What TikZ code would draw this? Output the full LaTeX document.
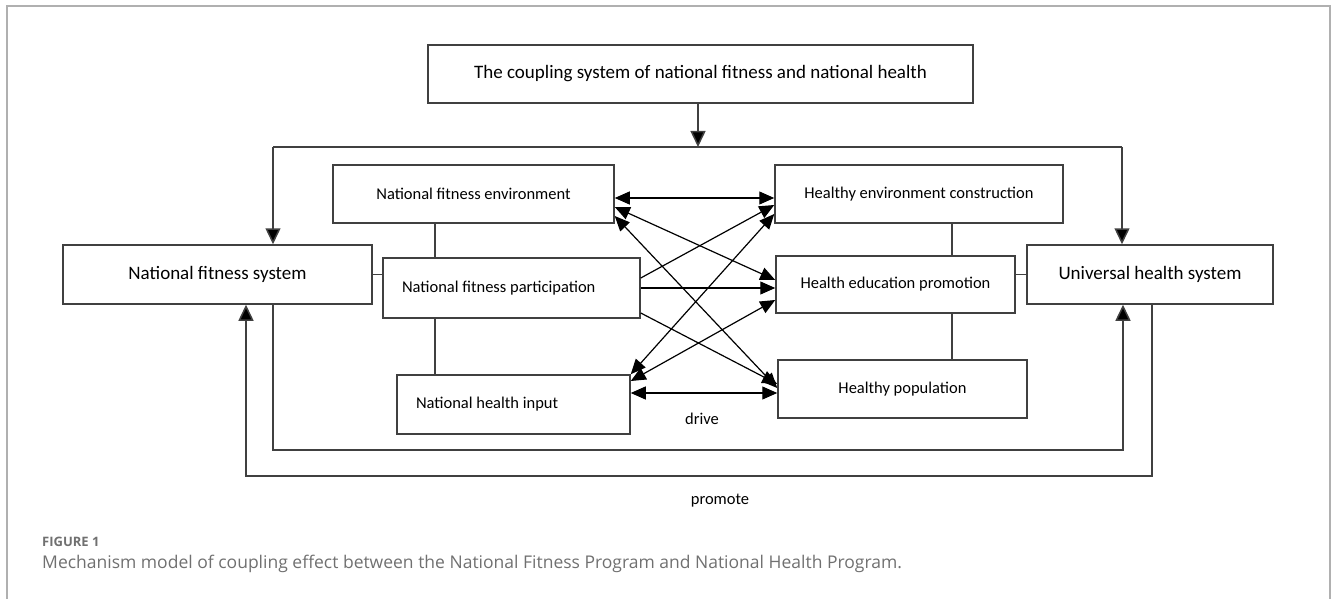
\documentclass[tikz,border=0pt]{standalone}
\usepackage{fontspec}
\setmainfont{Carlito}
\newfontfamily\capfont{Open Sans}
\usetikzlibrary{arrows.meta}

\definecolor{linec}{HTML}{404040}
\definecolor{framec}{HTML}{B0B0B0}
\definecolor{capc}{HTML}{707070}

\tikzset{
  box/.style={draw=linec, line width=1.5pt, inner sep=0pt, align=center},
  bigtxt/.style={font=\fontsize{19}{23}\selectfont},
  smalltxt/.style={font=\fontsize{16.5}{20}\selectfont},
  link/.style={draw=linec, line width=1.5pt},
  sysarrow/.style={link, -{Triangle[length=16pt,width=15pt,fill=black]}},
  onearrow/.style={draw=black, line width=1.2pt, -{Triangle[length=15pt,width=13pt]}},
  twoarrow/.style={draw=black, line width=1.2pt, {Triangle[length=15pt,width=13pt]}-{Triangle[length=15pt,width=13pt]}},
  lbl/.style={font=\fontsize{16.5}{20}\selectfont, inner sep=0pt},
}

\begin{document}
\begin{tikzpicture}[x=1pt, y=-1pt]
\useasboundingbox (0,0) rectangle (1331,599);

% outer frame (top, left and right rules)
\draw[framec, line width=2pt] (7.3,599) -- (7.3,6.3) -- (1330.3,6.3) -- (1330.3,599);

% top level
\node[box, bigtxt, minimum width=545pt, minimum height=58pt] (top) at (700.5,74)
  {The coupling system of national fitness and national health};

% the two systems
\node[box, bigtxt, minimum width=309pt, minimum height=59pt] (nfs) at (217.5,274.5)
  {National fitness system};
\node[box, bigtxt, minimum width=246pt, minimum height=59pt] (uhs) at (1150,274.5)
  {Universal health system};

% fitness side
\node[box, smalltxt, minimum width=281pt, minimum height=58pt] (nfe) at (473.5,194)
  {National fitness environment};
\node[box, smalltxt, align=flush left, inner xsep=19pt, text width=219pt, minimum height=60pt] (nfp) at (511.5,288)
  {National fitness participation};
\node[box, smalltxt, align=flush left, inner xsep=19pt, text width=195pt, minimum height=59pt] (nhi) at (513.5,404.5)
  {National health input};

% health side
\node[box, smalltxt, minimum width=288pt, minimum height=58pt] (hec) at (919,194)
  {Healthy environment construction};
\node[box, smalltxt, minimum width=239pt, minimum height=57pt] (hep) at (895.5,284.5)
  {Health education promotion};
\node[box, smalltxt, minimum width=249pt, minimum height=58pt] (hp) at (902.5,389)
  {Healthy population};

% helper coordinates for the bus lines
\coordinate (bus) at (698,147);
\coordinate (lb) at (273,147);
\coordinate (rb) at (1122,147);
\coordinate (lx) at (435,0);
\coordinate (rx) at (952,0);
\coordinate (dl) at (273,450);
\coordinate (dr) at (1123,450);
\coordinate (pl) at (246,476);
\coordinate (pr) at (1152,476);

% distribution from the coupling system
\draw[sysarrow] (top.south -| bus) -- (bus);
\draw[link] (lb) -- (rb);
\draw[sysarrow] (lb) -- (lb |- nfs.north);
\draw[sysarrow] (rb) -- (rb |- uhs.north);

% internal links of each system
\draw[link] (nfs.east) -- (nfs.east -| nfp.west);
\draw[link] (uhs.west) -- (uhs.west -| hep.east);
\draw[link] (nfe.south -| lx) -- (nfp.north -| lx);
\draw[link] (nfp.south -| lx) -- (nhi.north -| lx);
\draw[link] (hec.south -| rx) -- (hep.north -| rx);
\draw[link] (hep.south -| rx) -- (hp.north -| rx);

% feedback loops
\draw[sysarrow] (nfs.south -| dl) -- (dl) -- (dr) -- (dr |- uhs.south);
\draw[sysarrow] (uhs.south -| pr) -- (pr) -- (pl) -- (pl |- nfs.south);

% cross links between the subsystems
\draw[twoarrow] (nfe.east |- 0,198) -- (hec.west |- 0,198);
\draw[twoarrow] (nfe.east |- 0,207) -- (hep.west |- 0,280);
\draw[twoarrow] (nfe.east |- 0,216) -- (hp.west |- 0,388);
\draw[onearrow] (nfp.east |- 0,278) -- (hec.west |- 0,205);
\draw[onearrow] (nfp.east |- 0,288) -- (hep.west |- 0,288);
\draw[onearrow] (nfp.east |- 0,313) -- (hp.west |- 0,384);
\draw[twoarrow] (nhi.north east) -- (hec.west |- 0,214);
\draw[twoarrow] (nhi.east |- 0,381) -- (hep.west |- 0,300);
\draw[twoarrow] (nhi.east |- 0,393) -- (hp.west |- 0,393);

% labels
\node[lbl] (drive) at (702,419) {drive};
\node[lbl] (promote) at (720,501) {promote};

% caption
\node[anchor=west, inner sep=0pt, text=capc, font=\capfont\bfseries\fontsize{13}{15}\selectfont] (fig) at (42,542) {FIGURE 1};
\node[anchor=west, inner sep=0pt, text=capc, font=\capfont\fontsize{17.5}{21}\selectfont] (cap) at (42,564)
  {Mechanism model of coupling effect between the National Fitness Program and National Health Program.};
\end{tikzpicture}
\end{document}
